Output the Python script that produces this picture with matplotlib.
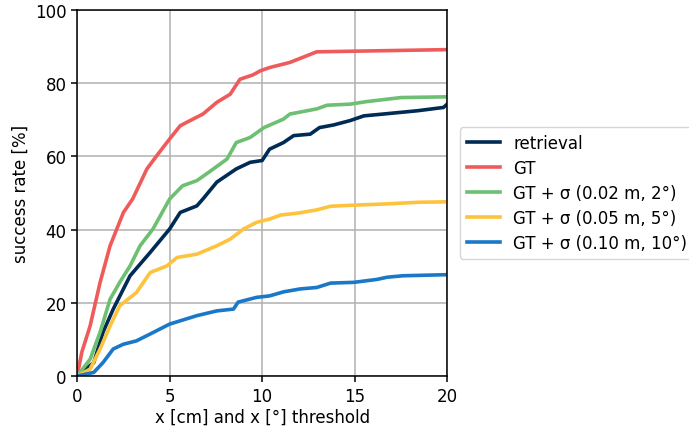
import matplotlib
matplotlib.use('Agg')
import matplotlib.pyplot as plt

# threshold (x) and success rate (%)
gt_x = [0, 0.25, 0.7, 1.24, 1.78, 2.5, 3.0, 3.77, 4.3, 5.0, 5.57, 6.1, 6.8, 7.55, 8.27, 8.8, 9.5, 9.9, 10.4, 11.5, 12.2, 12.95, 20]
gt_y = [0, 6.5, 13.7, 25.6, 35.6, 44.7, 48.4, 56.6, 60.2, 64.8, 68.4, 69.8, 71.6, 74.8, 77.0, 81.1, 82.3, 83.4, 84.3, 85.7, 87.1, 88.6, 89.2]

retr_x = [0, 0.9, 1.4, 1.95, 2.86, 3.95, 5.0, 5.57, 6.47, 6.8, 7.55, 8.6, 9.35, 10.0, 10.4, 11.15, 11.7, 12.6, 13.1, 13.85, 14.75, 15.5, 16.55, 18.4, 19.8, 20]
retr_y = [0, 3.7, 12.0, 18.3, 27.4, 33.8, 40.2, 44.7, 46.5, 48.4, 53.0, 56.6, 58.4, 58.9, 62.0, 63.8, 65.7, 66.1, 67.9, 68.6, 69.8, 71.1, 71.6, 72.5, 73.4, 74.3]

s02_x = [0, 0.7, 1.24, 1.78, 2.3, 2.86, 3.4, 4.1, 5.0, 5.7, 6.47, 7.2, 8.1, 8.6, 9.35, 10.1, 11.15, 11.5, 12.95, 13.5, 14.75, 15.65, 17.5, 20]
s02_y = [0, 4.6, 12.0, 21.0, 25.6, 30.1, 35.6, 40.2, 48.4, 52.0, 53.4, 56.0, 59.3, 63.8, 65.2, 67.9, 70.2, 71.6, 73.0, 74.0, 74.3, 75.0, 76.1, 76.3]

s05_x = [0, 0.7, 1.24, 1.78, 2.3, 3.2, 3.95, 4.85, 5.4, 6.47, 7.55, 8.27, 9.0, 9.7, 10.4, 11.0, 11.9, 12.95, 13.7, 14.95, 16.55, 18.5, 20]
s05_y = [0, 1.9, 7.4, 13.7, 19.2, 22.8, 28.3, 30.1, 32.4, 33.3, 35.6, 37.4, 40.2, 42.0, 42.9, 44.0, 44.5, 45.4, 46.4, 46.7, 47.0, 47.5, 47.6]

s10_x = [0, 0.9, 1.4, 1.95, 2.5, 3.2, 3.95, 5.0, 6.47, 7.55, 8.45, 8.7, 9.7, 10.4, 11.15, 12.05, 12.95, 13.7, 14.95, 16.2, 16.75, 17.6, 20]
s10_y = [0, 1.0, 3.7, 7.4, 8.7, 9.6, 11.5, 14.2, 16.5, 17.8, 18.3, 20.2, 21.5, 21.9, 23.0, 23.8, 24.2, 25.4, 25.6, 26.4, 27.0, 27.4, 27.7]

curves = [
    (retr_x, retr_y, 'retrieval', '#002b55'),
    (gt_x, gt_y, 'GT', '#ef5a5a'),
    (s02_x, s02_y, 'GT + σ (0.02 m, 2°)', '#6dbf72'),
    (s05_x, s05_y, 'GT + σ (0.05 m, 5°)', '#fec33c'),
    (s10_x, s10_y, 'GT + σ (0.10 m, 10°)', '#1a78c8'),
]

plt.rcParams['font.size'] = 12
plt.rcParams['axes.linewidth'] = 1.1
plt.rcParams['xtick.major.size'] = 4.2
plt.rcParams['ytick.major.size'] = 4.2
plt.rcParams['xtick.major.width'] = 1.1
plt.rcParams['ytick.major.width'] = 1.1

fig = plt.figure(figsize=(6.89, 4.27), dpi=100)
ax = fig.add_axes([0.112, 0.117, 0.537, 0.857])

for x, y, label, colour in curves:
    ax.plot(x, y, color=colour, lw=2.6, label=label)

ax.set_xlim(0, 20)
ax.set_ylim(0, 100)
ax.set_xticks([0, 5, 10, 15, 20])
ax.set_yticks([0, 20, 40, 60, 80, 100])
ax.grid(True, color='#b0b0b0', lw=1.1)
ax.set_axisbelow(True)
ax.set_xlabel('x [cm] and x [°] threshold', labelpad=2)
ax.set_ylabel('success rate [%]')
ax.legend(loc='center left', bbox_to_anchor=(1.012, 0.5), labelspacing=0.42)

fig.savefig('out.png', dpi=100)
